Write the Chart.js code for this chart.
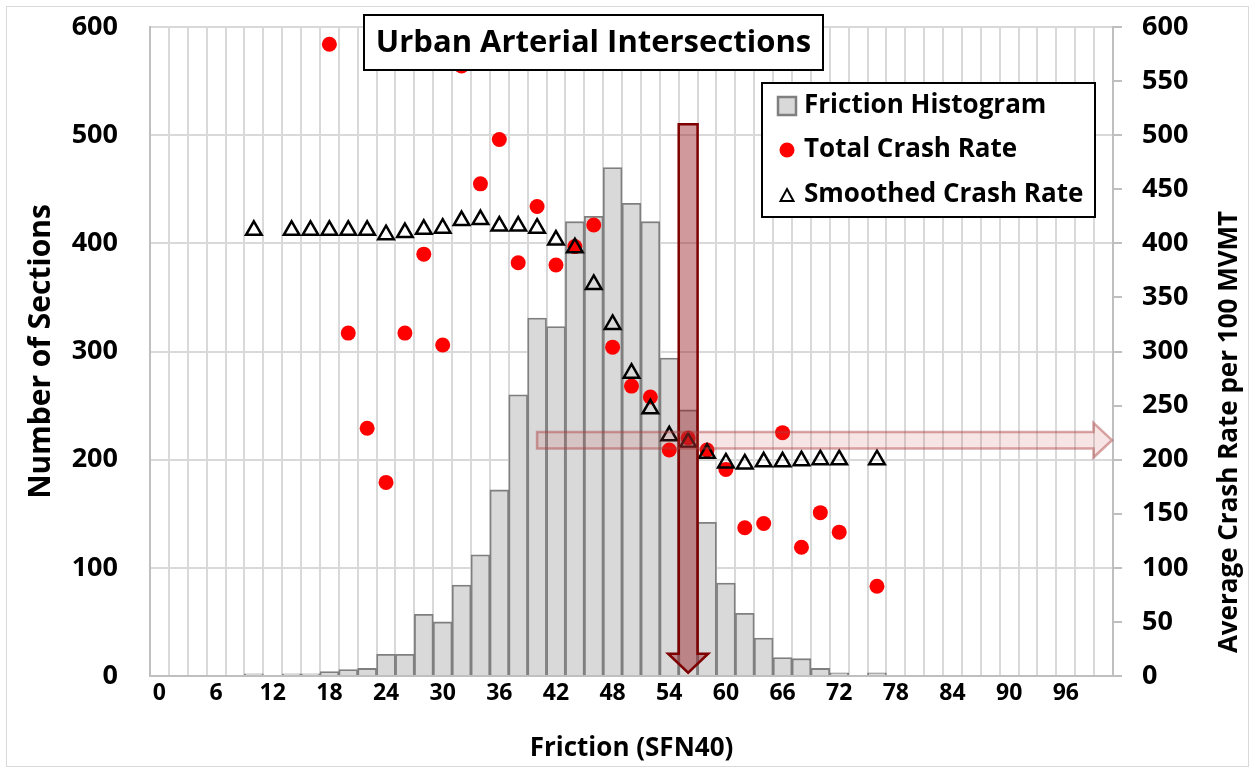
<!DOCTYPE html>
<html>
<head>
<meta charset="utf-8">
<title>Urban Arterial Intersections</title>
<script src="https://cdn.jsdelivr.net/npm/chart.js@4.4.1/dist/chart.umd.min.js"></script>
<style>
    html, body { margin: 0; padding: 0; background: #fff; }
    #wrap { width: 1255px; height: 772px; }
</style>
</head>
<body>
<div id="wrap"><canvas id="chart" width="1255" height="772"></canvas></div>
<script>
// friction bins (SFN40), one bar per 2 units
const frictionBins = ['0', '2', '4', '6', '8', '10', '12', '14', '16', '18', '20', '22', '24', '26', '28', '30', '32', '34',
    '36', '38', '40', '42', '44', '46', '48', '50', '52', '54', '56', '58', '60', '62', '64', '66', '68', '70',
    '72', '74', '76', '78', '80', '82', '84', '86', '88', '90', '92', '94', '96', '98', '100'];
const xTickLabels = ['0', '6', '12', '18', '24', '30', '36', '42', '48', '54', '60', '66', '72', '78', '84', '90', '96'];
const leftTicks = [0, 100, 200, 300, 400, 500, 600];
const rightTicks = [0, 50, 100, 150, 200, 250, 300, 350, 400, 450, 500, 550, 600];

// number of sections per bin
const histogramCounts = [0, 0, 0, 0, 0, 2, 0, 2, 2, 4, 6, 7, 20, 20, 57, 50, 84, 112,
    172, 260, 331, 323, 420, 425, 470, 437, 420, 294, 246, 142, 86, 58, 35, 17, 16, 7,
    3, 0, 3, 0, 0, 0, 0, 0, 0, 0, 0, 0, 0, 0, 0];

// crash rate per 100 MVMT
const totalCrashRate = [null, null, null, null, null, null, null, null, null, 584, 317, 229, 179, 317, 390, 306, 564, 455,
    496, 382, 434, 380, 397, 417, 304, 268, 258, 209, 220, 209, 191, 137, 141, 225, 119, 151,
    133, null, 83, null, null, null, null, null, null, null, null, null, null, null, null];
const smoothedCrashRate = [null, null, null, null, null, 412, null, 412, 412, 412, 412, 412, 408, 410, 413, 414, 421, 422,
    416, 416, 414, 403, 396, 362, 325, 280, 247, 222, 216, 206, 197, 196, 198, 198, 199, 200,
    200, null, 200, null, null, null, null, null, null, null, null, null, null, null, null];

const FONT = "'Open Sans', 'DejaVu Sans', sans-serif";
Chart.defaults.font.family = FONT;
Chart.defaults.color = '#000';

// arrows, in data units
const downArrow = { bin: '56', from: 510, to: 3 };
const rightArrow = { bin: '40', rate: 218 };

function drawArrows(chart) {
    const ctx = chart.ctx;
    const xs = chart.scales.x, ys = chart.scales.y, y2 = chart.scales.y2;
    const half = (xs.getPixelForValue(1) - xs.getPixelForValue(0)) / 2;

    // vertical arrow
    let cx = xs.getPixelForValue(frictionBins.indexOf(downArrow.bin));
    let top = ys.getPixelForValue(downArrow.from);
    let tip = ys.getPixelForValue(downArrow.to);
    let headLen = 19, headHalf = 20;
    ctx.save();
    ctx.beginPath();
    ctx.moveTo(cx - half, top);
    ctx.lineTo(cx + half, top);
    ctx.lineTo(cx + half, tip - headLen);
    ctx.lineTo(cx + headHalf, tip - headLen);
    ctx.lineTo(cx, tip);
    ctx.lineTo(cx - headHalf, tip - headLen);
    ctx.lineTo(cx - half, tip - headLen);
    ctx.closePath();
    ctx.fillStyle = 'rgba(150, 30, 35, 0.45)';
    ctx.fill();
    ctx.lineWidth = 2.5;
    ctx.strokeStyle = '#7f0000';
    ctx.lineJoin = 'miter';
    ctx.stroke();

    // horizontal arrow
    const x0 = xs.getPixelForValue(frictionBins.indexOf(rightArrow.bin));
    const x1 = xs.getPixelForValue(frictionBins.length - 1) + half - 1;
    const cy = y2.getPixelForValue(rightArrow.rate);
    const sh = 8.3, hh = 17.3, hl = 18.5;
    ctx.beginPath();
    ctx.moveTo(x0, cy - sh);
    ctx.lineTo(x1 - hl, cy - sh);
    ctx.lineTo(x1 - hl, cy - hh);
    ctx.lineTo(x1, cy);
    ctx.lineTo(x1 - hl, cy + hh);
    ctx.lineTo(x1 - hl, cy + sh);
    ctx.lineTo(x0, cy + sh);
    ctx.closePath();
    ctx.fillStyle = 'rgba(192, 80, 77, 0.15)';
    ctx.fill();
    ctx.strokeStyle = 'rgba(170, 60, 60, 0.45)';
    ctx.lineWidth = 2.5;
    ctx.stroke();
    ctx.restore();
}

function drawBoxes(chart) {
    const ctx = chart.ctx;
    ctx.save();

    // outer frame
    ctx.strokeStyle = '#d9d9d9';
    ctx.lineWidth = 1;
    ctx.strokeRect(6.5, 6.5, 1242, 760);

    // title box
    ctx.fillStyle = '#fff';
    ctx.fillRect(364, 15, 459, 55);
    ctx.strokeStyle = '#000';
    ctx.lineWidth = 2;
    ctx.strokeRect(364, 15, 459, 55);
    ctx.fillStyle = '#000';
    ctx.font = 'bold 31px ' + FONT;
    ctx.textAlign = 'center';
    ctx.textBaseline = 'middle';
    ctx.fillText('Urban Arterial Intersections', 593.5, 43);

    // legend box
    ctx.fillStyle = '#fff';
    ctx.fillRect(762, 83, 333, 134);
    ctx.strokeRect(762, 83, 333, 134);
    ctx.font = 'bold 26px ' + FONT;
    ctx.textAlign = 'left';

    ctx.fillStyle = '#d9d9d9';
    ctx.fillRect(778, 97, 18, 18);
    ctx.strokeStyle = '#7f7f7f';
    ctx.lineWidth = 2.5;
    ctx.strokeRect(778, 97, 18, 18);
    ctx.fillStyle = '#000';
    ctx.fillText('Friction Histogram', 804, 106);

    ctx.fillStyle = '#ff0000';
    ctx.beginPath();
    ctx.arc(787, 150, 7.5, 0, Math.PI * 2);
    ctx.fill();
    ctx.fillStyle = '#000';
    ctx.fillText('Total Crash Rate', 804, 150);

    ctx.beginPath();
    ctx.moveTo(787, 189);
    ctx.lineTo(793.5, 201);
    ctx.lineTo(780.5, 201);
    ctx.closePath();
    ctx.strokeStyle = '#000';
    ctx.lineWidth = 2;
    ctx.stroke();
    ctx.fillText('Smoothed Crash Rate', 804, 195);

    // right axis title, reads bottom to top
    ctx.translate(1230, 432);
    ctx.rotate(-Math.PI / 2);
    ctx.textAlign = 'center';
    ctx.font = 'bold 26px ' + FONT;
    ctx.fillText('Average Crash Rate per 100 MVMT', 0, 0);
    ctx.restore();
}

const decorations = {
    id: 'decorations',
    beforeDraw(chart) {
        const ctx = chart.ctx;
        ctx.save();
        ctx.fillStyle = '#fff';
        ctx.fillRect(0, 0, chart.width, chart.height);
        ctx.restore();
    },
    afterDatasetsDraw(chart) { drawArrows(chart); },
    afterDraw(chart) { drawBoxes(chart); }
};

new Chart(document.getElementById('chart'), {
    data: {
        labels: frictionBins,
        datasets: [
            {
                type: 'line',
                label: 'Smoothed Crash Rate',
                data: smoothedCrashRate,
                yAxisID: 'y2',
                showLine: false,
                pointStyle: 'triangle',
                pointRadius: 9,
                pointBackgroundColor: 'rgba(0,0,0,0)',
                pointBorderColor: '#000',
                pointBorderWidth: 2.5,
                order: 0
            },
            {
                type: 'line',
                label: 'Total Crash Rate',
                data: totalCrashRate,
                yAxisID: 'y2',
                showLine: false,
                pointStyle: 'circle',
                pointRadius: 7.5,
                pointBackgroundColor: '#ff0000',
                pointBorderWidth: 0,
                order: 1
            },
            {
                type: 'bar',
                label: 'Friction Histogram',
                data: histogramCounts,
                yAxisID: 'y',
                backgroundColor: '#d9d9d9',
                borderColor: '#7f7f7f',
                borderWidth: 1.8,
                barPercentage: 1,
                categoryPercentage: 1,
                order: 2
            }
        ]
    },
    options: {
        responsive: false,
        animation: false,
        layout: { autoPadding: false, padding: { top: 27, left: 0, right: 0, bottom: 0 } },
        plugins: {
            legend: { display: false },
            title: { display: false },
            tooltip: { enabled: false }
        },
        scales: {
            x: {
                type: 'category',
                offset: true,
                grid: { offset: true, color: '#d9d9d9', lineWidth: 2, drawTicks: false },
                border: { color: '#bfbfbf', width: 2 },
                ticks: {
                    autoSkip: false,
                    maxRotation: 0,
                    padding: 4,
                    font: { size: 23, weight: 'bold' },
                    callback: (value, index) => xTickLabels.includes(frictionBins[index]) ? frictionBins[index] : ''
                },
                title: {
                    display: true,
                    text: 'Friction (SFN40)',
                    font: { size: 26, weight: 'bold' },
                    padding: { top: 0, bottom: 8 }
                },
                afterFit: s => { s.height = 96; }
            },
            y: {
                position: 'left',
                min: 0,
                max: 600,
                afterBuildTicks: s => { s.ticks = leftTicks.map(v => ({ value: v })); },
                grid: { color: '#d9d9d9', lineWidth: 2, drawTicks: false },
                border: { color: '#bfbfbf', width: 2 },
                ticks: { padding: 32, font: { size: 27, weight: 'bold' } },
                title: {
                    display: true,
                    text: 'Number of Sections',
                    font: { size: 30, weight: 'bold' },
                    padding: { top: 23, bottom: 0 }
                },
                afterFit: s => { s.width = 150; s.paddingTop = 0; s.paddingBottom = 0; }
            },
            y2: {
                position: 'right',
                min: 0,
                max: 600,
                afterBuildTicks: s => { s.ticks = rightTicks.map(v => ({ value: v })); },
                grid: { drawOnChartArea: false, drawTicks: true, tickLength: 9, color: '#bfbfbf', lineWidth: 2 },
                border: { color: '#bfbfbf', width: 2 },
                ticks: { padding: 20, font: { size: 27, weight: 'bold' } },
                afterFit: s => { s.width = 142; s.paddingTop = 0; s.paddingBottom = 0; }
            }
        }
    },
    plugins: [decorations]
});
</script>
</body>
</html>
